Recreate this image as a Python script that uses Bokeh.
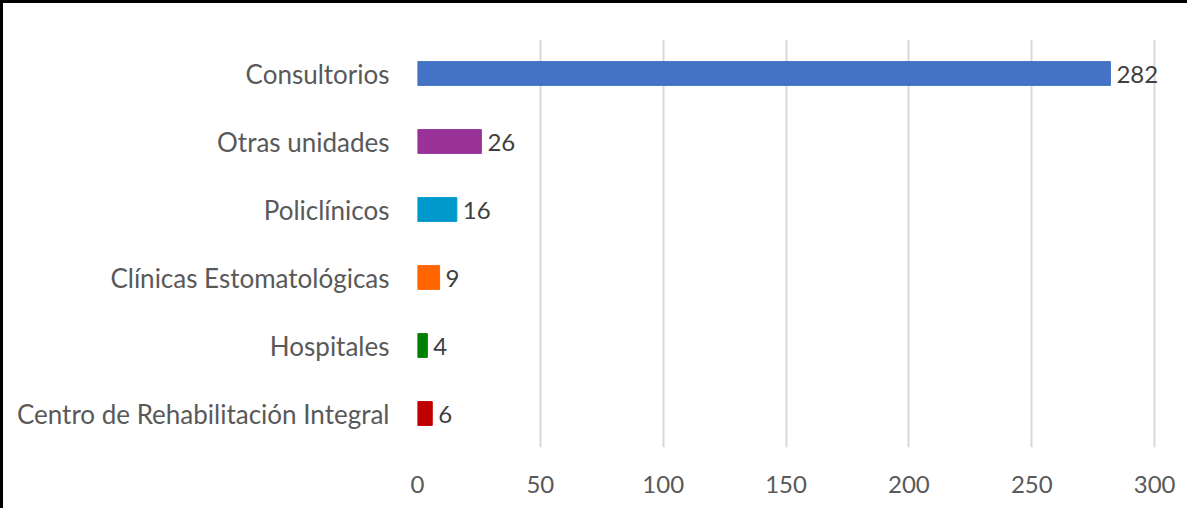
from bokeh.plotting import figure
from bokeh.models import ColumnDataSource, FactorRange, Range1d, LabelSet, FixedTicker
from bokeh.core.properties import value
from bokeh.embed import file_html
from bokeh.resources import INLINE

categories = ["Centro de Rehabilitación Integral", "Hospitales", "Clínicas Estomatológicas",
              "Policlínicos", "Otras unidades", "Consultorios"]
values = [6, 4, 9, 16, 26, 282]
colors = ["#C00000", "#008000", "#FF6600", "#0099CC", "#993399", "#4472C4"]
x_ticks = [0, 50, 100, 150, 200, 250, 300]

FONT = "Lato"

src = ColumnDataSource(dict(cat=categories, val=values, col=colors,
                            lab=[str(v) for v in values]))

p = figure(width=1187, height=508, y_range=FactorRange(*categories, range_padding=0),
           x_range=Range1d(0, 314.6), output_backend="svg", toolbar_location=None,
           min_border_left=414, min_border_right=0, min_border_top=36, min_border_bottom=64)

p.hbar(y="cat", right="val", left=0, height=0.35, color="col", source=src)

labels = LabelSet(x="val", y="cat", text="lab", source=src, x_offset=6, y_offset=-1,
                  text_baseline="middle", text_font=value(FONT), text_font_size="24px",
                  text_color="#404040")
p.add_layout(labels)

p.outline_line_color = None
p.ygrid.grid_line_color = None
p.xgrid.grid_line_color = "#D9D9D9"
p.xgrid.grid_line_width = 2
p.xaxis.ticker = FixedTicker(ticks=x_ticks)

for ax in (p.xaxis[0], p.yaxis[0]):
    ax.axis_line_color = None
    ax.major_tick_line_color = None
    ax.minor_tick_line_color = None
    ax.major_label_text_font = FONT
    ax.major_label_text_color = "#595959"

p.xaxis.major_label_text_font_size = "24px"
p.yaxis.major_label_text_font_size = "26px"
p.yaxis.major_label_standoff = 22
p.xaxis.major_label_standoff = 22
p.styles = {"border-left": "3px solid black", "border-top": "3px solid black"}

open("out.html", "w").write(file_html(p, INLINE))
